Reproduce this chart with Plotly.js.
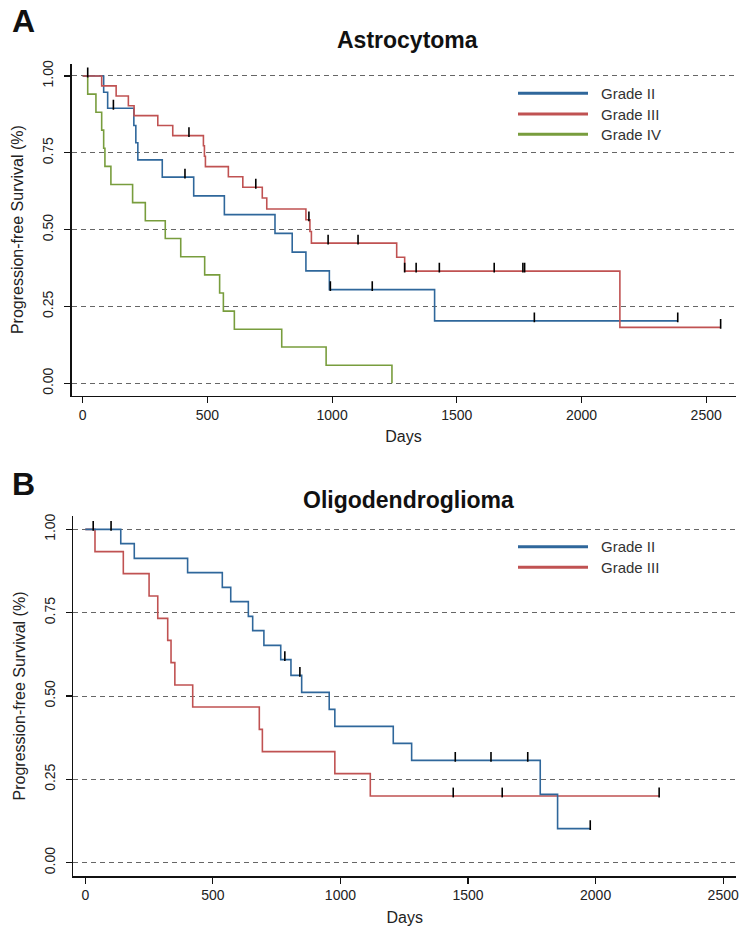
<!DOCTYPE html>
<html><head><meta charset="utf-8">
<script src="https://cdn.plot.ly/plotly-3.0.1.min.js"></script>
<style>html,body{margin:0;padding:0;background:#fff}#chart{width:751px;height:936px}</style>
</head><body><div id="chart"></div>
<script>
// ---------- Panel A: Astrocytoma ----------
const groupNames = ['Grade II', 'Grade III', 'Grade IV'];

const a2EventDays = [84, 100, 205, 213, 221, 319, 445, 568, 771, 840, 895, 989, 1411];
const a2EventSurv = [0.947, 0.895, 0.839, 0.783, 0.727, 0.671, 0.610, 0.549, 0.488, 0.427, 0.366, 0.305, 0.203];
const a2CensorDays = [20, 123, 410, 993, 1161, 1811, 2386];

const a3EventDays = [76, 134, 183, 206, 301, 361, 484, 488, 492, 584, 642, 720, 738, 895, 911, 917, 1259, 1291, 2154];
const a3EventSurv = [0.968, 0.935, 0.903, 0.871, 0.839, 0.806, 0.773, 0.739, 0.705, 0.672, 0.638, 0.603, 0.567, 0.532, 0.494, 0.456, 0.410, 0.365, 0.182];
const a3CensorDays = [426, 694, 907, 984, 1104, 1291, 1337, 1430, 1650, 1765, 1772, 2558];

const a4EventDays = [20, 53, 76, 84, 89, 113, 200, 251, 331, 393, 489, 549, 564, 608, 798, 976, 1240];
const a4EventSurv = [0.941, 0.882, 0.824, 0.765, 0.706, 0.647, 0.588, 0.529, 0.471, 0.412, 0.353, 0.294, 0.235, 0.176, 0.118, 0.059, 0.0];
const a4CensorDays = [];

// ---------- Panel B: Oligodendroglioma ----------
const b2EventDays = [139, 192, 401, 537, 570, 639, 656, 700, 766, 806, 848, 956, 978, 1207, 1279, 1783, 1851];
const b2EventSurv = [0.957, 0.913, 0.870, 0.826, 0.783, 0.739, 0.696, 0.652, 0.609, 0.562, 0.511, 0.460, 0.409, 0.358, 0.307, 0.205, 0.102];
const b2CensorDays = [31, 101, 782, 841, 1450, 1590, 1734, 1979];

const b3EventDays = [38, 149, 250, 284, 323, 336, 351, 421, 682, 694, 978, 1117];
const b3EventSurv = [0.933, 0.867, 0.800, 0.733, 0.667, 0.600, 0.533, 0.467, 0.400, 0.333, 0.267, 0.200];
const b3CensorDays = [1442, 1634, 2249];

const xTickVals = [0, 500, 1000, 1500, 2000, 2500];
const yTickVals = [0, 0.25, 0.5, 0.75, 1];
const yTickText = ['0.00', '0.25', '0.50', '0.75', '1.00'];

// ---------- styling ----------
const W = 751, H = 936;
const COLORS = ['#2f679b', '#c05252', '#789d3d'];
const FONT = 'Liberation Sans, Arial, Helvetica, sans-serif';
const px2x = p => p / W;
const px2y = p => 1 - p / H;

const domA = {x: [71.5 / W, 735.6 / W], y: [1 - 395.6 / H, 1 - 63.7 / H]};
const domB = {x: [73.3 / W, 736.2 / W], y: [1 - 876 / H, 1 - 516 / H]};
const yRange = [-0.04, 1.04];
const pxPerUnitA = (domA.y[1] - domA.y[0]) * H / (yRange[1] - yRange[0]);
const pxPerUnitB = (domB.y[1] - domB.y[0]) * H / (yRange[1] - yRange[0]);
const TICK_PX = 7;

function survAt(days, surv, t) {
  let s = 1;
  for (let i = 0; i < days.length; i++) { if (days[i] <= t) s = surv[i]; }
  return s;
}

function kmTraces(evDays, evSurv, cDays, color, xa, ya) {
  const allEnd = Math.max(evDays[evDays.length - 1], cDays.length ? cDays[cDays.length - 1] : 0);
  const x = [0].concat(evDays);
  const y = [1].concat(evSurv);
  if (allEnd > evDays[evDays.length - 1]) { x.push(allEnd); y.push(evSurv[evSurv.length - 1]); }
  return [{
    type: 'scatter', mode: 'lines', x: x, y: y, xaxis: xa, yaxis: ya,
    line: {shape: 'hv', color: color, width: 1.6}, hoverinfo: 'skip', showlegend: false
  }];
}
function censorTrace(evDays, evSurv, cDays, xa, ya, pxPerUnit) {
  const off = (TICK_PX / 2) / pxPerUnit;
  return {
    type: 'scatter', mode: 'markers', xaxis: xa, yaxis: ya,
    x: cDays, y: cDays.map(t => survAt(evDays, evSurv, t) + off),
    marker: {symbol: 'line-ns-open', size: TICK_PX, color: '#000', line: {color: '#000', width: 1.6}},
    hoverinfo: 'skip', showlegend: false
  };
}

const data = []
  .concat(kmTraces(a4EventDays, a4EventSurv, a4CensorDays, COLORS[2], 'x', 'y'))
  .concat(kmTraces(a2EventDays, a2EventSurv, a2CensorDays, COLORS[0], 'x', 'y'))
  .concat(kmTraces(a3EventDays, a3EventSurv, a3CensorDays, COLORS[1], 'x', 'y'))
  .concat(kmTraces(b3EventDays, b3EventSurv, b3CensorDays, COLORS[1], 'x2', 'y2'))
  .concat(kmTraces(b2EventDays, b2EventSurv, b2CensorDays, COLORS[0], 'x2', 'y2'));
data.push(censorTrace(a2EventDays, a2EventSurv, a2CensorDays, 'x', 'y', pxPerUnitA));
data.push(censorTrace(a3EventDays, a3EventSurv, a3CensorDays, 'x', 'y', pxPerUnitA));
data.push(censorTrace(b2EventDays, b2EventSurv, b2CensorDays, 'x2', 'y2', pxPerUnitB));
data.push(censorTrace(b3EventDays, b3EventSurv, b3CensorDays, 'x2', 'y2', pxPerUnitB));

function xAxis(domain, range, anchor) {
  return {
    domain: domain, range: range, anchor: anchor,
    tickmode: 'array', tickvals: xTickVals, ticktext: xTickVals.map(String),
    ticks: 'outside', ticklen: 6, tickwidth: 1.2, tickcolor: '#111',
    showline: true, linecolor: '#111', linewidth: 1.6,
    showgrid: false, zeroline: false,
    tickfont: {family: FONT, size: 14, color: '#222'},
    title: {text: 'Days', font: {family: FONT, size: 16, color: '#222'}, standoff: 9}
  };
}
function yAxis(domain, anchor) {
  return {
    domain: domain, range: yRange, anchor: anchor,
    tickmode: 'array', tickvals: yTickVals, ticktext: yTickText, tickangle: -90,
    ticks: 'outside', ticklen: 6, tickwidth: 1.2, tickcolor: '#111',
    ticklabelstandoff: 5,
    showline: true, linecolor: '#111', linewidth: 1.6,
    showgrid: true, gridcolor: '#666', gridwidth: 1, griddash: '5px,4px',
    zeroline: false,
    tickfont: {family: FONT, size: 14, color: '#222'},
    title: {text: 'Progression-free Survival (%)', font: {family: FONT, size: 16, color: '#222'}, standoff: 12}
  };
}

const shapes = [];
const annotations = [];
function legend(names, colors, ys) {
  names.forEach((n, i) => {
    shapes.push({type: 'line', xref: 'paper', yref: 'paper',
      x0: px2x(518), x1: px2x(588), y0: px2y(ys[i]), y1: px2y(ys[i]),
      line: {color: colors[i], width: 3}});
    annotations.push({xref: 'paper', yref: 'paper', x: px2x(599), y: px2y(ys[i]),
      xanchor: 'left', yanchor: 'middle', showarrow: false, text: n,
      font: {family: FONT, size: 15, color: '#333'}});
  });
}
legend(groupNames, COLORS, [93.3, 114, 134.3]);
legend(groupNames.slice(0, 2), COLORS.slice(0, 2), [546.7, 567.3]);

annotations.push({xref: 'paper', yref: 'paper', x: px2x(407), y: px2y(40), xanchor: 'center', yanchor: 'middle',
  showarrow: false, text: '<b>Astrocytoma</b>', font: {family: FONT, size: 23, color: '#111'}});
annotations.push({xref: 'paper', yref: 'paper', x: px2x(408), y: px2y(500), xanchor: 'center', yanchor: 'middle',
  showarrow: false, text: '<b>Oligodendroglioma</b>', font: {family: FONT, size: 23, color: '#111'}});
annotations.push({xref: 'paper', yref: 'paper', x: px2x(23), y: px2y(21), xanchor: 'center', yanchor: 'middle',
  showarrow: false, text: '<b>A</b>', font: {family: 'Liberation Sans Narrow, ' + FONT, size: 32, color: '#111'}});
annotations.push({xref: 'paper', yref: 'paper', x: px2x(23), y: px2y(484), xanchor: 'center', yanchor: 'middle',
  showarrow: false, text: '<b>B</b>', font: {family: 'Liberation Sans Narrow, ' + FONT, size: 32, color: '#111'}});

const layout = {
  width: W, height: H, margin: {l: 0, r: 0, t: 0, b: 0},
  paper_bgcolor: '#fff', plot_bgcolor: '#fff', showlegend: false,
  xaxis: xAxis(domA.x, [-45, 2618], 'y'),
  yaxis: yAxis(domA.y, 'x'),
  xaxis2: xAxis(domB.x, [-47, 2551], 'y2'),
  yaxis2: yAxis(domB.y, 'x2'),
  shapes: shapes, annotations: annotations
};

Plotly.newPlot('chart', data, layout, {staticPlot: true, displayModeBar: false});
</script>
</body></html>
